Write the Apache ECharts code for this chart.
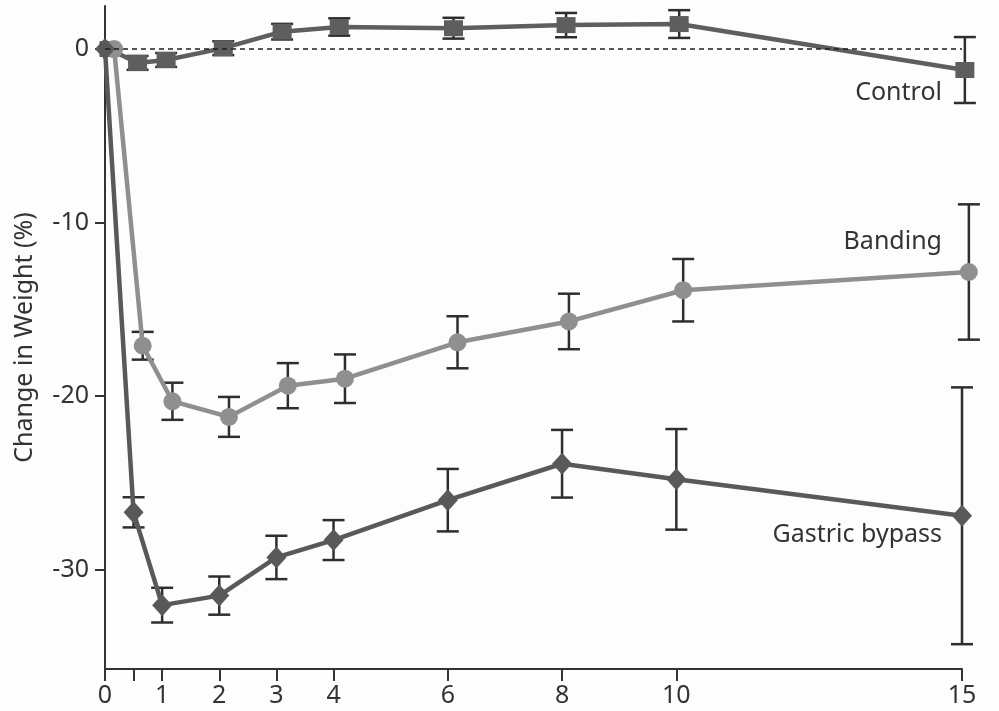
<!DOCTYPE html>
<html>
<head>
<meta charset="utf-8">
<script src="https://cdn.jsdelivr.net/npm/echarts@6/dist/echarts.min.js"></script>
<style>
html,body{margin:0;padding:0;background:#fdfdfd;}
#chart{width:999px;height:711px;}
</style>
</head>
<body>
<div id="chart"></div>
<script>
// Years after surgery (small offsets separate overlapping groups, as in the original figure)
const controlX = [0.07, 0.57, 1.07, 2.07, 3.1, 4.1, 6.1, 8.07, 10.05, 15.05];
const controlY = [0, -0.8, -0.63, 0.05, 1.0, 1.27, 1.2, 1.38, 1.44, -1.21];
const controlErr = [0, 0.4, 0.4, 0.4, 0.45, 0.5, 0.6, 0.7, 0.8, 1.9];

const bandingX = [0.16, 0.66, 1.18, 2.17, 3.2, 4.2, 6.17, 8.12, 10.12, 15.12];
const bandingY = [0, -17.1, -20.3, -21.2, -19.4, -19.0, -16.9, -15.7, -13.9, -12.85];
const bandingErr = [0, 0.8, 1.07, 1.15, 1.3, 1.4, 1.5, 1.6, 1.8, 3.9];

const bypassX = [0, 0.5, 1, 2, 3, 4, 6, 8, 10, 15];
const bypassY = [0, -26.7, -32.05, -31.5, -29.3, -28.3, -26.0, -23.9, -24.8, -26.9];
const bypassErr = [0, 0.87, 1.0, 1.1, 1.25, 1.15, 1.8, 1.95, 2.9, 7.4];

const xTickValues = [0, 0.5, 1, 2, 3, 4, 6, 8, 10, 15];
const xLabelValues = [0, 1, 2, 3, 4, 6, 8, 10, 15];
const yTickValues = [0, -10, -20, -30];

const seriesNames = ['Control', 'Banding', 'Gastric bypass'];

function pts(xs, ys){ return xs.map((x,i)=>[x, ys[i]]); }
function errs(xs, ys, es){
  const out = [];
  xs.forEach((x,i)=>{ if(es[i] > 0) out.push([x, ys[i]-es[i], ys[i]+es[i]]); });
  return out;
}
function renderErr(params, api){
  const x = api.value(0), lo = api.value(1), hi = api.value(2);
  const a = api.coord([x, hi]), b = api.coord([x, lo]);
  const w = 11;
  const st = {stroke:'#2e2e2e', lineWidth:2.5};
  return {type:'group', children:[
    {type:'line', shape:{x1:a[0],y1:a[1],x2:b[0],y2:b[1]}, style:st},
    {type:'line', shape:{x1:a[0]-w,y1:a[1],x2:a[0]+w,y2:a[1]}, style:st},
    {type:'line', shape:{x1:b[0]-w,y1:b[1],x2:b[0]+w,y2:b[1]}, style:st}
  ]};
}

const font = 'Noto Sans, Open Sans, sans-serif';
const chart = echarts.init(document.getElementById('chart'), null, {renderer:'canvas'});
chart.setOption({
  backgroundColor:'#fdfdfd',
  animation:false,
  grid:{left:105, right:37, top:6, bottom:42, containLabel:false, outerBoundsMode:'none'},
  xAxis:{
    type:'value', min:0, max:15,
    splitLine:{show:false},
    axisLine:{onZero:false, lineStyle:{color:'#333', width:2}},
    axisTick:{show:true, length:12, lineStyle:{color:'#333', width:2}, customValues:xTickValues},
    axisLabel:{color:'#333', fontSize:25, fontFamily:font, margin:14, customValues:xLabelValues}
  },
  yAxis:{
    type:'value', min:-35.73, max:2.48,
    name:'Change in Weight (%)', nameLocation:'middle', nameGap:68,
    nameTextStyle:{color:'#333', fontSize:25, fontFamily:font},
    splitLine:{show:false},
    axisLine:{onZero:false, lineStyle:{color:'#333', width:2}},
    axisTick:{show:true, length:10, lineStyle:{color:'#333', width:2}, customValues:yTickValues},
    axisLabel:{color:'#333', fontSize:25, fontFamily:font, margin:16, customValues:yTickValues}
  },
  series:[
    {type:'custom', renderItem:renderErr, data:errs(controlX, controlY, controlErr), encode:{x:0,y:[1,2]}, z:1, silent:true, clip:false},
    {type:'custom', renderItem:renderErr, data:errs(bandingX, bandingY, bandingErr), encode:{x:0,y:[1,2]}, z:1, silent:true, clip:false},
    {type:'custom', renderItem:renderErr, data:errs(bypassX, bypassY, bypassErr), encode:{x:0,y:[1,2]}, z:1, silent:true, clip:false},
    {
      name:seriesNames[0], type:'line', data:pts(controlX, controlY), z:3, clip:false,
      symbol:'rect', symbolSize:[19,16], showAllSymbol:true,
      lineStyle:{color:'#5e5e5e', width:4.5}, itemStyle:{color:'#5e5e5e'},
      markLine:{silent:true, symbol:'none', label:{show:false},
        lineStyle:{color:'#1e1e1e', width:1.6, type:[5,4]}, data:[{yAxis:0}]}
    },
    {
      name:seriesNames[1], type:'line', data:pts(bandingX, bandingY), z:3, clip:false,
      symbol:'circle', symbolSize:18, showAllSymbol:true,
      lineStyle:{color:'#8f8f8f', width:4.5}, itemStyle:{color:'#8f8f8f'}
    },
    {
      name:seriesNames[2], type:'line', data:pts(bypassX, bypassY), z:4, clip:false,
      symbol:'diamond', symbolSize:[20,22], showAllSymbol:true,
      lineStyle:{color:'#595959', width:4.5}, itemStyle:{color:'#595959'}
    }
  ],
  graphic:[
    {type:'text', x:942, y:93, style:{text:seriesNames[0], fill:'#333', font:'25px ' + font, textAlign:'right', textVerticalAlign:'middle'}},
    {type:'text', x:942, y:242, style:{text:seriesNames[1], fill:'#333', font:'25px ' + font, textAlign:'right', textVerticalAlign:'middle'}},
    {type:'text', x:942, y:535, style:{text:seriesNames[2], fill:'#333', font:'25px ' + font, textAlign:'right', textVerticalAlign:'middle'}}
  ]
});
</script>
</body>
</html>
